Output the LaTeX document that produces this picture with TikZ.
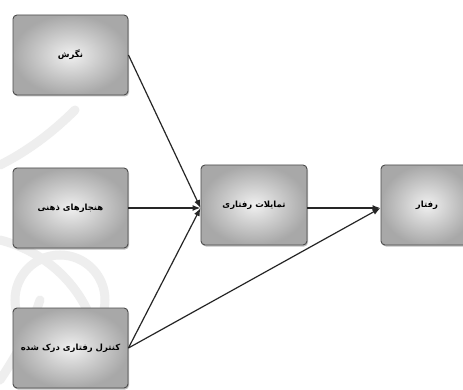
\documentclass[tikz,border=0pt]{standalone}
\usepackage{fontspec}
\newfontfamily\fa[Script=Arabic]{DejaVu Sans}
\TeXXeTstate=1
\usetikzlibrary{arrows.meta,shadows}
\tikzset{
  box/.style={rectangle, rounded corners=4pt, draw=black!70, line width=0.9pt,
    shading=radial, inner color=gray!12, outer color=gray!68,
    drop shadow={shadow xshift=1pt, shadow yshift=-1.5pt, opacity=0.5},
    font=\fa\fontsize{8.5}{10}\selectfont\bfseries, text=black},
  link/.style={draw=black!85, line width=1.2pt, -{Latex[length=8pt,width=6pt]}},
  wm/.style={draw=gray!13, line width=9pt, line cap=round}
}
\begin{document}
\begin{tikzpicture}[x=1pt,y=-1pt]
\useasboundingbox (0,0) rectangle (463,390);
\clip (0,0) rectangle (463,390);
\fill[white] (0,0) rectangle (463,390);
% faint watermark
\draw[wm] (0,165) .. controls (30,150) and (55,130) .. (75,110);
\draw[wm] (60,300) circle (45);
\draw[wm] (0,240) .. controls (40,250) and (80,280) .. (95,330);
\draw[wm] (0,380) .. controls (20,350) and (30,330) .. (40,300);
% boxes
\node[box, minimum width=115pt, minimum height=80pt] (att) at (70.5,55) {\beginR نگرش\endR};
\node[box, minimum width=115pt, minimum height=80pt] (norm) at (70.5,208) {\beginR هنجارهای ذهنی\endR};
\node[box, minimum width=115pt, minimum height=80pt] (pbc) at (70.5,348) {\beginR کنترل رفتاری درک شده\endR};
\node[box, minimum width=106pt, minimum height=80pt] (int) at (254,205) {\beginR تمایلات رفتاری\endR};
\node[box, minimum width=92pt, minimum height=80pt] (beh) at (427,205) {\beginR رفتار\endR};
\coordinate (inInt) at ([yshift=-3pt]int.west);
\coordinate (inBeh) at ([yshift=-3pt]beh.west);
% connectors
\draw[link] (att.east) -- (inInt);
\draw[link, line width=1.5pt] (norm.east) -- (inInt);
\draw[link] (pbc.east) -- (inInt);
\draw[link] (pbc.east) -- (inBeh);
\draw[link, line width=2pt] (int.east |- inBeh) -- (inBeh);
\end{tikzpicture}
\end{document}
